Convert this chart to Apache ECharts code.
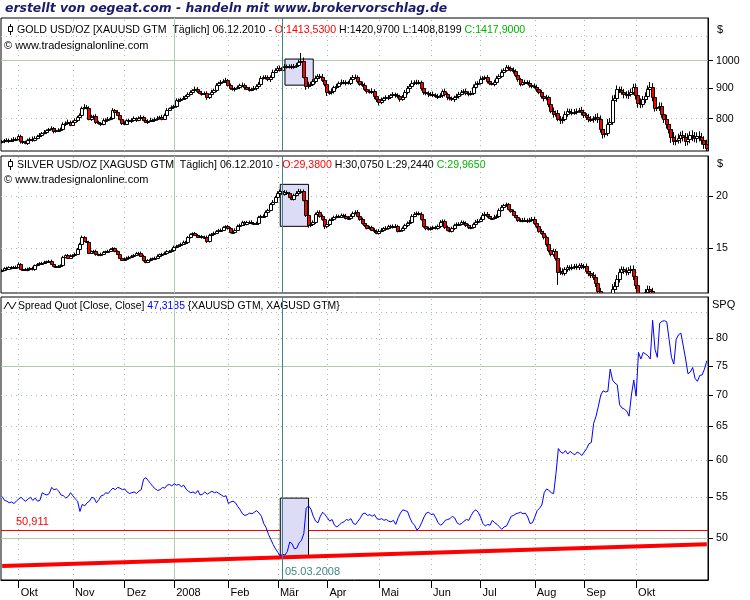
<!DOCTYPE html>
<html><head><meta charset="utf-8">
<script src="https://cdn.jsdelivr.net/npm/echarts@6/dist/echarts.min.js"></script>
<style>html,body{margin:0;padding:0;background:#fff}#c{width:750px;height:600px}</style>
</head><body><div id="c"></div>
<script>
// ---------- DATA (daily, weekdays from 20.09.2007) ----------
const goldClose = [
733,737,735,738,736,739,741,748,733,730,728,737,741,736,744,749,752,756,760,765,
768,772,762,765,767,770,784,788,791,782,790,796,806,812,832,838,835,800,806,809,
790,786,783,795,797,800,803,826,822,812,800,788,785,795,792,797,801,796,803,806,
797,790,794,797,795,800,803,806,800,812,828,832,836,840,858,860,864,867,872,880,
886,892,898,890,884,880,884,868,878,888,893,910,918,922,926,928,910,900,895,900,
903,910,912,902,898,895,897,900,908,915,935,940,938,930,940,958,965,972,965,975,
980,978,975,980,978,985,995,1000,940,908,912,915,925,935,942,940,928,915,885,885,
890,902,908,918,922,918,920,918,930,940,938,925,915,912,896,890,888,890,872,862,
853,860,865,868,870,875,878,875,872,863,870,885,900,908,918,922,918,920,900,885,
882,878,880,877,874,872,875,890,878,868,866,862,868,872,880,888,890,882,880,884,
905,915,918,932,935,938,925,918,915,920,935,942,958,965,975,972,965,960,945,930,
915,920,922,918,910,908,905,896,885,872,865,868,845,825,815,818,800,795,800,815,
825,822,820,822,825,828,820,810,805,800,798,802,805,800,770,755,758,785,790,860,
865,895,892,888,878,875,880,888,902,875,850,845,862,872,895,905,870,835,838,840,
815,800,785,770,745,735,738,742,750,745,735,740,752,748,742,748,745,738,725,715];
const goldFirstOpen = 730;
const goldUpWick = [
4,3,5,3,4,6,3,5,4,3,5,4,3,6,4,3,5,4,6,3, 4,5,3,6,4,3,5,4,6,3,4,5,3,4,6,8,5,4,6,3,
5,4,3,6,4,5,3,7,4,5,3,6,4,3,5,4,6,3,4,5, 3,5,4,6,3,4,5,3,6,4,5,3,6,4,7,5,3,6,4,5,
6,4,7,5,3,6,4,5,3,6,5,7,4,6,5,8,4,6,5,4, 6,5,7,4,5,6,4,7,5,6,8,5,6,7,5,8,6,7,9,6,
7,5,8,6,7,6,9,30,12,8,10,7,6,9,7,8,10,7,9,6, 8,6,7,5,8,6,7,5,9,6,8,7,5,8,6,7,5,9,6,7,
6,8,5,7,6,5,8,6,7,5,6,8,7,6,9,5,7,8,6,9, 5,7,6,8,5,6,7,5,8,6,7,5,6,8,7,5,6,8,7,6,
7,8,6,9,7,6,8,7,6,9,8,7,9,6,8,7,6,9,7,8, 6,8,7,5,9,6,8,7,6,8,7,9,6,8,10,7,9,8,6,8,
7,6,9,8,7,6,9,8,7,10,8,6,9,12,10,8,11,14,12,15, 12,14,10,13,9,11,12,10,13,14,12,15,11,13,14,16,12,10,14,12,
11,13,12,10,14,15,12,13,11,14,12,16,10,13,12,11,14,12,10,13];
const goldDownWick = [
3,5,4,6,3,4,5,3,6,4,3,5,6,4,3,5,4,6,3,5, 5,3,6,4,5,3,4,6,3,5,4,3,6,5,4,3,6,5,7,4,
6,4,5,3,6,4,5,3,6,4,5,7,3,4,6,5,3,6,4,5, 5,3,6,4,5,3,6,4,5,3,6,4,5,3,6,4,5,3,6,4,
5,6,4,7,5,6,4,8,5,6,4,7,5,6,4,7,5,6,4,7, 5,7,6,8,5,7,6,5,8,6,7,5,8,6,9,7,5,8,6,7,
6,8,5,7,9,6,8,7,6,14,10,8,7,9,6,8,7,9,12,8, 7,9,6,8,7,5,9,6,8,7,6,9,7,8,6,9,7,8,10,9,
11,7,8,6,9,7,6,8,7,9,6,8,7,9,6,8,7,6,9,8, 7,9,6,8,7,9,6,8,7,9,8,6,9,7,8,6,9,7,8,6,
8,7,9,6,8,7,9,8,6,9,7,8,6,9,7,8,6,9,7,8, 9,7,8,6,9,8,7,9,6,8,10,7,9,8,12,9,8,11,10,8,
9,7,10,8,9,7,10,8,9,11,8,10,9,13,12,14,11,10,12,9, 10,12,9,11,13,10,12,9,11,14,16,12,10,13,11,12,15,13,11,14,
12,13,15,14,16,12,13,11,14,12,15,13,12,14,11,13,12,14,13,12];

const silverClose = [
13.25,13.4,13.35,13.45,13.4,13.5,13.45,13.7,13.35,13.3,13.25,13.35,13.4,13.3,13.6,13.7,13.75,13.8,13.85,13.9,
13.95,13.7,13.55,13.5,13.55,13.6,14.25,14.4,14.2,14.35,14.4,14.5,14.9,15.3,15.9,15.6,15.5,14.6,14.7,14.75,
14.45,14.4,14.5,14.65,14.7,14.75,14.9,14.95,14.7,14.5,14.2,14.05,14.1,14.2,14.25,14.35,14.4,14.55,14.6,14.35,
14.0,13.85,14.0,14.1,14.15,14.2,14.35,14.45,14.5,14.6,14.7,14.75,14.8,15.1,15.15,15.2,15.35,15.5,15.45,15.9,
16.15,16.25,16.1,15.95,16.0,15.9,15.95,15.55,16.1,16.2,16.3,16.45,16.55,16.6,16.8,16.9,16.7,16.35,16.4,16.6,
16.95,17.05,17.3,17.1,17.3,17.35,17.2,17.15,17.2,17.8,17.9,17.95,18.3,18.5,19.1,19.4,19.9,20.4,20.6,20.2,
20.5,20.3,19.9,19.7,20.1,20.4,20.6,20.55,19.6,18.0,17.0,17.1,17.3,18.1,18.3,17.9,17.6,16.9,17.1,17.5,
17.6,17.8,17.9,17.85,18.0,17.95,17.7,17.75,17.9,18.2,18.35,17.9,17.6,17.2,17.0,16.75,16.8,16.6,16.45,16.3,
16.5,16.6,16.7,16.75,16.9,16.85,16.95,16.9,16.5,16.55,16.7,17.0,17.2,17.35,17.9,18.15,18.2,18.1,17.6,16.9,
16.7,16.65,16.75,16.8,16.75,16.9,17.35,17.4,16.8,16.6,16.5,16.7,17.0,17.1,17.15,17.3,17.2,17.0,16.8,16.85,
17.1,17.35,17.45,17.6,18.05,18.15,17.9,17.75,17.7,17.85,17.9,18.5,18.85,19.0,19.1,18.6,18.4,18.05,17.8,17.5,
17.45,17.55,17.5,17.4,17.55,17.65,17.2,16.9,16.5,16.3,15.9,15.3,14.8,14.5,14.7,14.15,13.1,13.2,13.05,13.3,
13.45,13.4,13.5,13.55,13.45,13.6,13.5,13.55,13.2,13.0,12.9,12.75,12.3,11.8,11.2,10.7,10.9,11.1,11.3,11.9,
12.1,12.6,13.1,13.3,13.2,13.1,13.25,13.35,12.8,12.2,11.4,11.0,11.2,11.7,11.9,11.8,10.6,10.6,10.9,10.2,
9.8,9.6,9.4,9.6,9.7,9.7,9.3,9.1,9.25,9.5,9.6,10.0,10.2,10.1,10.2,10.3,10.2,10.1,9.8,9.45];
const silverFirstOpen = 13.15;
const silverUpWickCents = [
8,6,10,7,9,6,8,10,7,6,9,8,7,10,6,8,9,7,10,6, 7,9,6,10,8,7,9,6,8,10,7,9,8,12,15,10,8,9,7,8,
9,7,10,8,6,9,7,10,8,9,7,6,10,8,9,7,8,10,6,9, 8,10,7,9,6,8,10,7,9,8,10,7,9,8,10,9,8,11,9,10,
11,9,12,10,8,11,9,10,12,9,11,10,12,9,11,10,12,13,9,11, 12,10,13,11,12,10,13,11,14,12,13,11,15,13,14,16,13,15,14,18,
16,14,18,15,17,16,22,18,20,16,18,15,17,14,16,18,15,17,16,14, 15,13,16,14,15,13,16,14,17,15,13,16,14,15,13,16,14,15,13,16,
14,15,13,16,14,15,13,16,14,15,17,14,16,15,17,14,16,15,18,16, 15,17,14,16,15,17,14,16,15,17,14,16,15,17,14,16,15,17,14,16,
15,17,16,18,15,17,16,18,15,17,16,18,17,16,18,15,17,16,18,15, 17,16,18,15,17,16,18,15,17,16,18,17,20,18,22,19,20,25,18,16,
17,15,18,16,17,15,18,16,19,17,18,20,19,22,20,18,19,21,20,35, 30,28,25,22,20,24,21,23,25,28,22,24,26,22,25,23,20,22,24,21,
20,22,21,23,20,22,21,20,23,21,22,20,23,21,22,20,21,23,20,22];
const silverDownWickCents = [
7,9,6,8,10,7,9,6,10,8,7,9,6,8,10,7,9,8,6,10, 9,7,10,8,6,9,8,10,7,9,8,6,10,9,11,8,10,12,9,8,
10,8,9,7,10,8,9,11,8,10,9,7,8,10,9,8,10,7,9,8, 12,9,8,10,9,8,10,9,8,10,9,11,8,10,9,8,11,10,9,8,
10,12,9,11,10,12,9,15,11,10,12,9,11,10,12,9,11,10,13,11, 10,12,11,13,10,12,11,13,12,14,11,13,12,14,13,15,14,16,14,17,
15,17,14,16,18,15,17,16,18,20,22,18,16,17,15,17,16,25,18,16, 14,16,13,15,14,16,13,15,14,16,15,13,16,14,15,13,16,14,15,13,
16,14,15,13,16,14,15,13,16,14,15,13,16,14,15,13,16,14,15,13, 16,14,15,17,14,16,15,17,14,16,15,17,14,16,15,17,14,16,15,17,
16,15,17,14,16,15,17,14,16,15,17,16,14,18,16,15,17,16,14,18, 15,17,16,18,15,17,16,18,20,17,19,21,18,20,22,19,90,20,18,21,
18,20,17,19,18,20,17,19,22,20,23,21,24,22,25,23,22,24,26,23, 25,22,24,21,23,25,22,24,26,28,24,22,25,23,21,24,22,20,23,25,
22,20,23,21,24,22,20,23,21,22,24,20,22,21,23,20,22,21,23,20];

const spreadQuot = [
55.1,54.6,54.5,54.3,54.4,54.2,54.5,54.8,55.0,54.7,54.5,54.8,55.0,54.6,54.9,54.5,54.6,55.6,55.4,55.3,
55.5,56.3,56.0,56.1,55.8,55.3,55.2,54.9,55.1,55.6,55.2,54.8,54.5,53.2,54.1,53.9,54.3,54.5,55.0,54.9,
54.3,54.7,55.2,55.3,55.6,55.5,55.9,56.2,56.0,56.3,56.2,56.0,56.1,55.7,55.5,55.6,55.7,55.5,55.8,56.0,
57.4,57.6,57.2,56.8,56.4,56.1,55.9,56.0,56.3,56.2,56.6,56.7,56.5,56.8,56.6,56.7,56.4,56.6,56.1,55.8,
55.6,55.7,55.5,55.9,55.3,55.4,55.7,55.4,55.6,55.8,55.6,55.7,55.5,55.3,55.1,55.2,54.2,54.4,54.5,54.3,
53.8,53.4,52.9,52.7,52.8,53.0,52.9,53.1,53.3,53.0,52.6,51.7,51.2,50.4,49.8,49.2,48.7,48.3,47.9,48.1,
48.0,48.4,49.5,49.3,48.7,48.8,49.4,49.7,50.5,53.6,53.9,53.5,52.6,52.0,51.8,52.6,53.1,52.8,52.4,52.0,
52.2,51.5,51.3,51.5,51.8,51.9,52.2,52.1,52.3,51.7,51.6,52.0,52.4,52.9,53.0,52.7,52.8,52.6,52.8,52.3,
52.2,52.3,52.1,52.2,52.0,51.9,52.1,51.6,52.4,53.0,53.4,53.3,53.2,52.4,51.8,51.5,50.9,51.2,51.8,52.5,
53.0,53.1,52.8,52.9,52.4,51.8,51.5,51.7,52.1,52.2,52.3,52.6,52.4,51.8,51.6,51.7,52.0,52.2,52.1,52.7,
53.2,53.4,53.1,52.5,51.7,51.4,51.6,51.5,52.1,51.8,51.6,51.3,51.0,51.3,51.4,52.0,52.6,52.7,52.9,53.0,
53.1,52.9,53.0,52.5,51.7,51.8,52.5,53.3,53.6,54.0,55.6,56.1,55.9,55.6,55.5,58.2,61.7,61.2,61.0,61.4,
60.9,61.3,61.0,60.8,61.2,61.0,60.7,61.2,61.7,62.4,62.6,65.5,66.6,68.2,70.0,70.7,70.5,70.6,74.4,72.5,
72.0,71.7,68.4,67.9,67.7,67.4,66.6,70.0,72.5,69.8,77.4,76.2,77.4,77.1,76.8,76.2,83.5,78.0,76.5,82.9,
83.3,83.4,83.2,79.8,76.5,75.3,79.8,80.7,81.0,78.6,76.2,73.6,73.9,74.7,72.8,72.3,73.3,73.4,74.4,75.9];

// regression line (start / end value) and horizontal level
const trendIdx = [0, 299];
const trendVal = [46.77, 49.23];
const levelLine = [50.911];

// marked period boxes [fromIdx, toIdx] and [low, high]
const goldBoxX = [120, 132], goldBoxY = [910, 1006];
const silverBoxX = [118, 130], silverBoxY = [16.9, 21.35];
const spreadBoxX = [118, 130], spreadBoxY = [47.8, 54.9];
const cursorIdx = [119];

// axes / ticks
const monthStartIdx = [7, 30, 52, 73, 96, 117, 138, 160, 182, 203, 226, 247, 269];
const monthLabels = ['Okt','Nov','Dez','2008','Feb','Mär','Apr','Mai','Jun','Jul','Aug','Sep','Okt'];
const goldTicks = [800, 900, 1000];
const goldDotted = [800, 900, 1100];
const goldSolid = [1000];
const goldRange = [706.5, 1178];
const silverTicks = [15, 20];
const silverDotted = [15, 20];
const silverRange = [11.66, 25];
const spreadTicks = [50, 55, 60, 65, 70, 75, 80];
const spreadDotted = [55, 60, 65, 70, 80, 85];
const spreadSolid = [50, 75];
const spreadRange = [45.26, 88.2];

// ---------- BUILD ----------
const N = goldClose.length;
const dates = [];
(function () {
  let t = Date.UTC(2007, 8, 20);
  while (dates.length < N) {
    const d = new Date(t);
    const wd = d.getUTCDay();
    if (wd !== 0 && wd !== 6) dates.push(d.toISOString().slice(0, 10));
    t += 86400000;
  }
})();

// rows: [index, open, close, low, high]
function candles(close, firstOpen, up, dn, div) {
  const out = [];
  for (let i = 0; i < close.length; i++) {
    const o = i === 0 ? firstOpen : close[i - 1];
    const c = close[i];
    out.push([i, o, c, Math.min(o, c) - dn[i] / div, Math.max(o, c) + up[i] / div]);
  }
  return out;
}
const goldData = candles(goldClose, goldFirstOpen, goldUpWick, goldDownWick, 1);
const silverData = candles(silverClose, silverFirstOpen, silverUpWickCents, silverDownWickCents, 100);

function renderCandle(params, api) {
  const i = api.value(0), o = api.value(1), c = api.value(2), lo = api.value(3), hi = api.value(4);
  const pO = api.coord([i, o]), pC = api.coord([i, c]);
  const pL = api.coord([i, lo]), pH = api.coord([i, hi]);
  const X = Math.round(pO[0]);
  const top = Math.round(Math.min(pO[1], pC[1])) + 0.5;
  const bot = Math.round(Math.max(pO[1], pC[1])) + 0.5;
  return {
    type: 'group',
    children: [
      { type: 'line', shape: { x1: X - 0.5, y1: pH[1], x2: X - 0.5, y2: pL[1] },
        style: { stroke: '#000', lineWidth: 1 } },
      { type: 'rect', shape: { x: X - 1.5, y: top, width: 3, height: Math.max(bot - top, 1) },
        style: { fill: c < o ? '#ff0000' : '#ffffff', stroke: '#000', lineWidth: 1 } }
    ]
  };
}

const DOT = '#a3bfa3', SOLID = '#b4c8b4', TEAL = '#3f8585';
const FONT = '"Liberation Sans", Arial, sans-serif';

function vLines() {
  return monthStartIdx.map((idx, k) => monthLabels[k] === '2008'
    ? { xAxis: idx, lineStyle: { type: 'solid', color: SOLID, width: 1 } }
    : { xAxis: idx, lineStyle: { type: [1, 4], color: DOT, width: 1 } });
}
function hLines(dotted, solid) {
  return dotted.map(v => ({ yAxis: v, lineStyle: { type: [1, 4], color: DOT, width: 1 } }))
    .concat(solid.map(v => ({ yAxis: v, lineStyle: { type: 'solid', color: SOLID, width: 1 } })));
}
function gridMark(dotted, solid, extra) {
  return { silent: true, symbol: 'none', z: 1, animation: false, label: { show: false },
    emphasis: { disabled: true }, data: vLines().concat(hLines(dotted, solid)).concat(extra || []) };
}
function boxMark(bx, by) {
  return { silent: true, z: 1.5, animation: false, label: { show: false },
    itemStyle: { color: '#dcdcf7', borderColor: '#000', borderWidth: 1 },
    data: [[{ xAxis: bx[0], yAxis: by[0] }, { xAxis: bx[1], yAxis: by[1] }]] };
}
function cursorMark() {
  return { silent: true, symbol: 'none', z: 4, animation: false, label: { show: false },
    emphasis: { disabled: true },
    lineStyle: { color: TEAL, type: 'solid', width: 1 },
    data: cursorIdx.map(i => ({ xAxis: i })) };
}

const grids = [
  { left: 1, top: 18, width: 707, height: 133 },
  { left: 1, top: 156, width: 707, height: 137 },
  { left: 1, top: 297, width: 707, height: 283 }
].map(g => Object.assign({ show: true, borderColor: '#000', borderWidth: 1, backgroundColor: '#fff' }, g));

function xAx(i, labels) {
  return {
    type: 'category', gridIndex: i, data: dates, boundaryGap: true,
    axisLine: { show: labels, lineStyle: { color: '#000' } },
    axisTick: { show: labels, alignWithLabel: true, length: 8, lineStyle: { color: '#000' },
      interval: (idx) => monthStartIdx.indexOf(idx) >= 0 },
    axisLabel: { show: labels, align: 'left', padding: [0, 0, 0, 2], margin: 7,
      color: '#000', fontSize: 11, fontFamily: FONT,
      interval: (idx) => monthStartIdx.indexOf(idx) >= 0,
      formatter: (val, idx) => monthLabels[monthStartIdx.indexOf(idx)] },
    splitLine: { show: false }
  };
}
function yAx(i, range, ticks) {
  return {
    type: 'log', logBase: 10, gridIndex: i, position: 'right', min: range[0], max: range[1],
    axisLine: { show: true, lineStyle: { color: '#000' } },
    axisTick: { show: true, length: 5, inside: false, customValues: ticks, lineStyle: { color: '#000' } },
    axisLabel: { show: true, customValues: ticks, margin: 8, color: '#000', fontSize: 10.6, fontFamily: FONT,
      formatter: (v) => String(v) },
    splitLine: { show: false }
  };
}
function helper(ax, extra) {
  return Object.assign({ type: 'line', xAxisIndex: ax, yAxisIndex: ax, data: [], silent: true, symbol: 'none' }, extra);
}

const HF = '10.6px ' + FONT;
const option = {
  animation: false,
  backgroundColor: '#fff',
  grid: grids,
  xAxis: [xAx(0, false), xAx(1, false), xAx(2, true)],
  yAxis: [yAx(0, goldRange, goldTicks), yAx(1, silverRange, silverTicks), yAx(2, spreadRange, spreadTicks)],
  series: [
    helper(0, { z: 1, markLine: gridMark(goldDotted, goldSolid), markArea: boxMark(goldBoxX, goldBoxY) }),
    helper(1, { z: 1, markLine: gridMark(silverDotted, []), markArea: boxMark(silverBoxX, silverBoxY) }),
    helper(2, { z: 1, markLine: gridMark(spreadDotted, spreadSolid,
        levelLine.map(v => ({ yAxis: v, lineStyle: { type: 'solid', color: '#ff0000', width: 1 } }))),
      markArea: boxMark(spreadBoxX, spreadBoxY) }),
    { name: 'GOLD', type: 'custom', xAxisIndex: 0, yAxisIndex: 0, data: goldData, z: 2, clip: true, silent: true,
      encode: { x: 0, y: [1, 2, 3, 4] }, renderItem: renderCandle },
    { name: 'SILVER', type: 'custom', xAxisIndex: 1, yAxisIndex: 1, data: silverData, z: 2, clip: true, silent: true,
      encode: { x: 0, y: [1, 2, 3, 4] }, renderItem: renderCandle },
    { name: 'Trend', type: 'line', xAxisIndex: 2, yAxisIndex: 2, z: 2, silent: true,
      data: trendIdx.map((x, k) => [x, trendVal[k]]), symbol: 'none',
      lineStyle: { color: '#ff0000', width: 4 } },
    { name: 'Spread Quot', type: 'line', xAxisIndex: 2, yAxisIndex: 2, data: spreadQuot, z: 3, silent: true,
      symbol: 'none', lineStyle: { color: '#0000ff', width: 1 } },
    helper(0, { z: 4, markLine: cursorMark() }),
    helper(1, { z: 4, markLine: cursorMark() }),
    helper(2, { z: 4, markLine: cursorMark() })
  ],
  graphic: [
    { type: 'text', x: 5, y: 9, silent: true,
      style: { text: 'erstellt von oegeat.com - handeln mit www.brokervorschlag.de',
        font: 'italic bold 12.4px "DejaVu Sans"', fill: '#1a1a6e', verticalAlign: 'middle' } },
    // gold header
    { type: 'line', silent: true, shape: { x1: 10.5, y1: 24, x2: 10.5, y2: 35 }, style: { stroke: '#000', lineWidth: 1 } },
    { type: 'rect', silent: true, shape: { x: 8.5, y: 26.5, width: 4, height: 5 }, style: { fill: '#fff', stroke: '#000', lineWidth: 1 } },
    { type: 'text', x: 17, y: 30, silent: true,
      style: { text: '{k|GOLD USD/OZ [XAUUSD GTM  Täglich] 06.12.2010 - }{r|O:1413,5300}{k| H:1420,9700 L:1408,8199 }{g|C:1417,9000}',
        font: HF, verticalAlign: 'middle',
        rich: { k: { fill: '#000', font: HF }, r: { fill: '#ff0000', font: HF }, g: { fill: '#00b400', font: HF } } } },
    { type: 'text', x: 4, y: 46, silent: true,
      style: { text: '© www.tradesignalonline.com', font: '11px ' + FONT, fill: '#000', verticalAlign: 'middle' } },
    { type: 'text', x: 717, y: 30, silent: true, style: { text: '$', font: '11px ' + FONT, fill: '#000', verticalAlign: 'middle' } },
    // silver header
    { type: 'line', silent: true, shape: { x1: 10.5, y1: 159, x2: 10.5, y2: 170 }, style: { stroke: '#000', lineWidth: 1 } },
    { type: 'rect', silent: true, shape: { x: 8.5, y: 161.5, width: 4, height: 5 }, style: { fill: '#fff', stroke: '#000', lineWidth: 1 } },
    { type: 'text', x: 17, y: 165, silent: true,
      style: { text: '{k|SILVER USD/OZ [XAGUSD GTM  Täglich] 06.12.2010 - }{r|O:29,3800}{k| H:30,0750 L:29,2440 }{g|C:29,9650}',
        font: HF, verticalAlign: 'middle',
        rich: { k: { fill: '#000', font: HF }, r: { fill: '#ff0000', font: HF }, g: { fill: '#00b400', font: HF } } } },
    { type: 'text', x: 4, y: 180, silent: true,
      style: { text: '© www.tradesignalonline.com', font: '11px ' + FONT, fill: '#000', verticalAlign: 'middle' } },
    { type: 'text', x: 717, y: 164, silent: true, style: { text: '$', font: '11px ' + FONT, fill: '#000', verticalAlign: 'middle' } },
    // spread header
    { type: 'polyline', silent: true, shape: { points: [[4, 309], [8, 302], [12, 309], [16, 302]] }, style: { stroke: '#000', lineWidth: 1, fill: null } },
    { type: 'text', x: 18, y: 306, silent: true,
      style: { text: '{k|Spread Quot [Close, Close] }{b|47,3185}{k| \u007BXAUUSD GTM, XAGUSD GTM\u007D}',
        font: '10.4px ' + FONT, verticalAlign: 'middle',
        rich: { k: { fill: '#000', font: '10.4px ' + FONT }, b: { fill: '#0000ff', font: '10.4px ' + FONT } } } },
    { type: 'text', x: 712, y: 305, silent: true, style: { text: 'SPQ', font: '11px ' + FONT, fill: '#000', verticalAlign: 'middle' } },
    { type: 'text', x: 16, y: 522, silent: true, style: { text: '50,911', font: '11px ' + FONT, fill: '#ff0000', verticalAlign: 'middle' } },
    { type: 'text', x: 285, y: 572, silent: true, style: { text: '05.03.2008', font: '11px ' + FONT, fill: TEAL, verticalAlign: 'middle' } }
  ]
};

const chart = echarts.init(document.getElementById('c'), null, { renderer: 'canvas' });
chart.setOption(option);
</script>
</body></html>
